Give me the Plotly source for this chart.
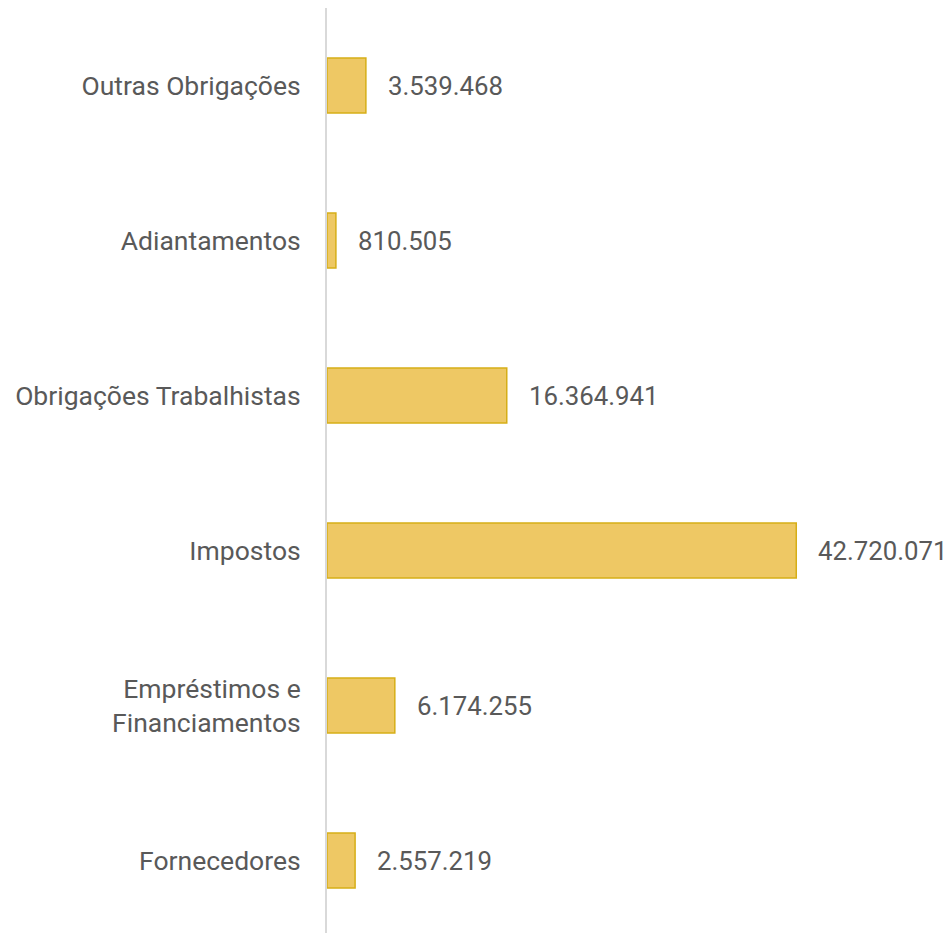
import plotly.graph_objects as go

categories = ["Fornecedores", "Empréstimos e<br>Financiamentos", "Impostos",
              "Obrigações Trabalhistas", "Adiantamentos", "Outras Obrigações"]
values = [2557219, 6174255, 42720071, 16364941, 810505, 3539468]

def fmt(v):
    return f"{v:,}".replace(",", ".")

FONT = dict(family="Roboto", size=26.5, color="#595959")
LABEL_FONT = dict(family="Roboto", size=25.8, color="#595959")

fig = go.Figure(go.Bar(
    x=values, y=categories, orientation="h",
    marker=dict(color="#EEC864", line=dict(color="#D6AE17", width=1.5)),
    width=0.355,
))

for v, c in zip(values, categories):
    fig.add_annotation(x=v, y=c, text=fmt(v), showarrow=False,
                       xanchor="left", xshift=20, font=LABEL_FONT)

fig.update_layout(
    width=944, height=925,
    margin=dict(l=319, r=0, t=0, b=0),
    plot_bgcolor="white", paper_bgcolor="white",
    showlegend=False,
    font=FONT,
    xaxis=dict(range=[0, 56.9e6], visible=False, showgrid=False, zeroline=False),
    yaxis=dict(range=[5.5 - 925 / 155, 5.5], showline=True,
               linecolor="#D9D9D9", linewidth=2,
               showgrid=False, zeroline=False, ticks="", ticklabelstandoff=19,
               tickfont=FONT),
)

fig.write_html("out.html",
               post_script="document.documentElement.style.overflow='hidden';"
                           "document.body.style.overflow='hidden';")
